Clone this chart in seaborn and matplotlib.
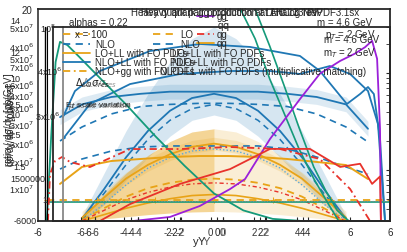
import matplotlib
matplotlib.use("Agg")
import matplotlib.pyplot as plt
from matplotlib.lines import Line2D
import seaborn as sns

# ---- data (main axes units: x = rapidity, y = 0..20) ----
x_bell = [-4.5, -3.75, -3.0, -2.25, -1.5, -0.75, 0.0, 0.75, 1.5, 2.25, 3.0, 3.75, 4.5]
blue_band_hi = [0.5, 4.5, 8.5, 12.0, 15.0, 17.2, 18.3, 17.2, 15.0, 12.0, 8.5, 4.5, 0.5]
blue_band_lo = [0.0, 1.5, 3.8, 6.0, 8.0, 9.5, 10.0, 9.5, 8.0, 6.0, 3.8, 1.5, 0.0]
blue_bell = [0.2, 3.0, 6.0, 8.5, 10.4, 11.6, 12.0, 11.6, 10.4, 8.5, 6.0, 3.0, 0.2]
blue_bell_dash = [0.1, 2.6, 5.3, 7.7, 9.5, 10.6, 11.0, 10.6, 9.5, 7.7, 5.3, 2.6, 0.1]
blue_bell_dot = [0.0, 1.6, 3.4, 5.0, 6.0, 6.6, 6.8, 6.6, 6.0, 5.0, 3.4, 1.6, 0.0]
orange_band_hi = [0.5, 2.5, 4.5, 6.2, 7.5, 8.4, 8.7, 8.4, 7.5, 6.2, 4.5, 2.5, 0.5]
orange_band_lo = [0.0, 0.2, 0.4, 0.6, 0.75, 0.85, 0.9, 0.85, 0.75, 0.6, 0.4, 0.2, 0.0]
orange_bell = [0.3, 2.2, 4.0, 5.3, 6.3, 7.0, 7.3, 7.0, 6.3, 5.3, 4.0, 2.2, 0.3]
orange_bell_dash = [0.1, 1.2, 2.3, 3.1, 3.6, 3.9, 4.0, 3.9, 3.6, 3.1, 2.3, 1.2, 0.1]
orange_bell_low = [0.0, 0.6, 1.2, 1.7, 2.1, 2.4, 2.5, 2.4, 2.1, 1.7, 1.2, 0.6, 0.0]
red_bell_dash = [0.0, 1.0, 2.0, 2.7, 3.2, 3.5, 3.6, 3.5, 3.2, 2.7, 2.0, 1.0, 0.0]

x_wide = [-5.25, -4.5, -3.5, -2.5, -1.5, -0.5, 0.5, 1.5, 2.5, 3.5, 4.5, 5.25]
blue_wide = [9.8, 11.0, 11.7, 12.0, 12.2, 12.2, 12.2, 12.2, 12.0, 11.7, 11.0, 8.7]
blue_wide_dash = [7.55, 8.87, 10.1, 10.8, 11.0, 11.1, 11.1, 11.0, 10.8, 10.1, 8.87, 7.45]
blue_wide_dash2 = [4.9, 5.85, 6.6, 6.98, 7.08, 7.08, 7.08, 7.08, 6.8, 6.04, 5.1, 4.43]
orange_wide = [3.5, 5.1, 5.66, 5.85, 6.04, 6.13, 6.13, 6.04, 5.85, 5.57, 5.28, 3.96]

x_top_a = [-5.15, -4.74, -3.89, -2.18, -0.48, 1.23, 2.93, 3.61, 4.53, 4.98, 5.25, 5.45, 5.66, 5.83]
blue_top_a = [9.81, 12.26, 14.15, 16.04, 16.7, 16.42, 15.57, 14.15, 11.04, 11.98, 12.64, 11.98, 7.74, 0.0]
x_top_b = [-5.15, -4.23, -2.86, -1.16, 0.55, 1.91, 2.93, 3.95, 4.64, 5.25, 5.59, 5.83]
blue_top_b = [7.74, 11.04, 12.92, 13.87, 14.15, 14.15, 13.87, 14.62, 13.87, 12.26, 9.15, 0.0]

x_green = [-5.7, -5.55, -5.4, -5.25, -5.0, -4.6, -4.0, -3.0, -2.0, -1.0, 0.0, 1.0, 2.0, 3.0]
green_peak = [0.0, 8.0, 15.0, 16.9, 16.6, 15.5, 13.8, 11.0, 8.0, 5.2, 2.6, 1.0, 0.2, 0.0]
x_green2 = [0.9, 1.4, 1.9, 2.4, 2.9, 3.4, 3.9, 4.25]
green_fall = [20.0, 17.2, 13.4, 10.1, 6.8, 4.0, 1.6, 0.0]
x_green3 = [1.4, 1.9, 2.4, 2.9, 3.4, 3.8, 4.2, 4.6]
green_fall2 = [20.0, 16.5, 12.7, 8.8, 5.1, 2.9, 1.0, 0.0]
x_flat = [-5.7, -4.0, -2.0, 0.0, 2.0, 4.0, 6.0]
orange_flat = [2.0, 2.0, 2.0, 2.0, 2.0, 2.0, 2.0]
green_flat = [1.8, 1.8, 1.8, 1.8, 1.8, 1.8, 1.8]

x_purple = [-3.8, -2.76, -1.5, -0.48, 0.55, 1.06, 1.91, 2.93, 3.61, 4.30, 4.81, 5.15, 5.39, 5.56, 5.66, 5.69]
purple_gg = [0.0, 0.0, 0.38, 1.42, 3.02, 3.96, 7.74, 11.5, 13.9, 15.1, 15.8, 16.4, 17.0, 15.3, 8.7, 0.0]

x_red_dd = [-5.66, -5.59, -5.42, -5.18, -4.91, -4.23, -2.86, -1.16, 0.55, 2.25, 3.61, 4.64, 5.32]
red_dashdot = [0.0, 4.43, 5.66, 6.04, 5.57, 5.09, 6.79, 6.79, 6.98, 6.79, 5.85, 3.02, 0.0]
x_red = [-3.89, -2.86, -1.16, 0.55, 1.91, 3.27, 4.30, 4.98, 5.39, 5.66, 5.69]
red_solid = [0.0, 1.6, 3.5, 4.9, 6.8, 6.8, 5.1, 5.4, 3.5, 4.2, 0.0]

# ---- figure ----
sns.set_style("ticks")
plt.rcParams['font.family'] = ['Liberation Sans', 'DejaVu Sans']
W, H = 407, 253
fig = plt.figure(figsize=(W / 100, H / 100), dpi=100)


def box(l, t, r, b):
    return [l / W, 1 - b / H, (r - l) / W, (b - t) / H]


def fx(x, y):
    return x / W, 1 - y / H


# outer frame
ax0 = fig.add_axes(box(38, 10, 390, 222))
ax0.set_xlim(-6, 6)
ax0.set_ylim(0, 20)
for s in ax0.spines.values():
    s.set_linewidth(1.3)
ax0.spines['left'].set_color('#444444')
ax0.set_xticks([-6, 6])
ax0.set_xticklabels(['-6', '6'], fontsize=7)
ax0.set_yticks([20])
ax0.set_yticklabels(['20'], fontsize=7)
ax0.tick_params(length=0, pad=4)

c_blue = '#1f77b4'
c_lblue = '#5aa7dd'
c_orange = '#e8a317'
c_green = '#159a7a'
c_red = '#e8322b'
c_purple = '#9b20d9'

# bands
ax0.fill_between(x_bell, blue_band_lo, blue_band_hi, color=c_blue, alpha=0.18, lw=0)
ax0.fill_between(x_wide, [v - 0.7 for v in blue_wide], [v + 0.7 for v in blue_wide],
                 color=c_blue, alpha=0.15, lw=0)
ax0.fill_between(x_bell[:7], orange_band_lo[:7], orange_band_hi[:7], color=c_orange, alpha=0.45, lw=0)
ax0.fill_between(x_bell[6:], orange_band_lo[6:], orange_band_hi[6:], color=c_orange, alpha=0.18, lw=0)
ax0.fill_between(x_bell, [v - 0.6 for v in orange_bell], [v + 0.6 for v in orange_bell],
                 color=c_orange, alpha=0.18, lw=0)

# lines
sns.lineplot(x=x_bell, y=blue_bell, ax=ax0, color=c_blue, lw=1.3)
sns.lineplot(x=x_bell, y=blue_bell_dash, ax=ax0, color=c_blue, lw=1.1, linestyle=(0, (4, 3)))
sns.lineplot(x=x_bell, y=blue_bell_dot, ax=ax0, color=c_lblue, lw=1.0, linestyle=(0, (1, 1.5)))
sns.lineplot(x=x_wide, y=blue_wide, ax=ax0, color=c_blue, lw=1.3)
sns.lineplot(x=x_wide, y=blue_wide_dash, ax=ax0, color=c_blue, lw=1.2, linestyle=(0, (4, 3)))
sns.lineplot(x=x_wide, y=blue_wide_dash2, ax=ax0, color=c_blue, lw=1.2, linestyle=(0, (4, 3)))
sns.lineplot(x=x_top_a, y=blue_top_a, ax=ax0, color=c_blue, lw=1.3)
sns.lineplot(x=x_top_b, y=blue_top_b, ax=ax0, color=c_blue, lw=1.3)

sns.lineplot(x=x_bell, y=orange_bell, ax=ax0, color=c_orange, lw=1.3)
sns.lineplot(x=x_bell, y=orange_bell_dash, ax=ax0, color=c_orange, lw=1.3, linestyle=(0, (4, 3)))
sns.lineplot(x=x_bell, y=orange_bell_low, ax=ax0, color=c_orange, lw=1.2)
sns.lineplot(x=x_wide, y=orange_wide, ax=ax0, color=c_orange, lw=1.4)
sns.lineplot(x=x_bell, y=red_bell_dash, ax=ax0, color=c_red, lw=1.0, linestyle=(0, (3, 2, 1, 2)))

sns.lineplot(x=x_flat, y=orange_flat, ax=ax0, color=c_orange, lw=1.3, linestyle=(0, (4, 3)),
             marker='+', markersize=4, markeredgecolor=c_orange)
sns.lineplot(x=x_flat, y=green_flat, ax=ax0, color=c_green, lw=1.2)
sns.lineplot(x=x_flat, y=[v + 0.1 for v in green_flat], ax=ax0, color='#888888', lw=0.8,
             linestyle=(0, (1, 1.5)))

sns.lineplot(x=x_green, y=green_peak, ax=ax0, color=c_green, lw=1.3)
sns.lineplot(x=x_green2, y=green_fall, ax=ax0, color=c_green, lw=1.2)
sns.lineplot(x=x_green3, y=green_fall2, ax=ax0, color=c_green, lw=1.2)
sns.lineplot(x=x_purple, y=purple_gg, ax=ax0, color=c_purple, lw=1.3)
sns.lineplot(x=x_red_dd, y=red_dashdot, ax=ax0, color=c_red, lw=1.3, linestyle=(0, (4, 2, 1, 2)))
sns.lineplot(x=x_red, y=red_solid, ax=ax0, color=c_red, lw=1.3)

# extra left spines / gray guide
ax0.axvline(-5.76, ymax=(222 - 28) / 212, color='black', lw=1.0)
ax0.axvline(-5.68, ymax=(222 - 28) / 212, color='black', lw=0.8)
ax0.axvline(-5.15, ymax=(222 - 28) / 212, color='#888888', lw=1.3)

# inner frame with overlapping tick sets
ax1 = fig.add_axes(box(53, 28, 390, 222))
ax1.patch.set_alpha(0)
ax1.set_xlim(-7.98, 7.88)
ax1.set_xticks([-6, -4, -2, 0, 2, 4, 6])
ax1.set_xticklabels(['-6', '-4', '-2', '0', '2', '4', '6'], fontsize=7)
ax1.set_yscale('log')
ax1.set_ylim(0.3, 30)
ax1.yaxis.tick_right()
ax1.tick_params(axis='y', which='both', direction='in', labelright=False, length=3)
ax1.tick_params(axis='x', direction='in', length=3, pad=4)
for s in ax1.spines.values():
    s.set_linewidth(1.3)

for xl, ticks, col in [((-7.63, 8.05), [-6, -4, -2, 0, 2, 4], '#222222'),
                       ((-7.95, 7.77), [-6, -4, -2, 0, 2], '#777777'),
                       ((-7.3, 8.3), [-6, -4, -2, 0, 2, 4], '#333333')]:
    axt = fig.add_axes(box(53, 28, 390, 222))
    axt.patch.set_alpha(0)
    for s in axt.spines.values():
        s.set_visible(False)
    axt.set_xlim(*xl)
    axt.set_xticks(ticks)
    axt.set_xticklabels([str(t) for t in ticks], fontsize=7, color=col)
    axt.set_yticks([])
    axt.tick_params(axis='x', direction='in', length=3, pad=4)

# titles and annotations
fig.text(*fx(225, 13), 'Heavy quark pair production at LHC 13 TeV', fontsize=7, ha='center', va='center')
fig.text(*fx(232, 13), 'Heavy quark gg production at LHC 13 TeV', fontsize=7, ha='center', va='center')
fig.text(*fx(315, 13), 'Analog NNPDF3.1sx', fontsize=7, ha='center', va='center')
fig.text(*fx(98, 23), 'alphas = 0.22', fontsize=7, ha='center', va='center')
fig.text(*fx(345, 23), 'm = 4.6 GeV', fontsize=7, ha='center', va='center')
fig.text(*fx(350, 35), 'p$_T$ = 2 GeV', fontsize=7, ha='center', va='center')
fig.text(*fx(352, 40), 'm = 4.6 GeV', fontsize=7, ha='center', va='center')
fig.text(*fx(350, 53), 'm$_T$ = 2 GeV', fontsize=7, ha='center', va='center')
fig.text(*fx(65, 106), r'E$_T$ scale variation', fontsize=6, ha='left', va='center')
fig.text(*fx(68, 106), r'$\mu$ scale variation', fontsize=6, ha='left', va='center', alpha=0.6)

# legend-like key
key = [
    (35, c_orange, (0, (4, 3)), 'x = 100', 75),
    (45, c_blue, (0, (4, 3)), 'NLO', 95),
    (54, c_orange, '-', 'LO+LL with FO PDFs', 95),
    (63, c_blue, '-', 'NLO+LL with FO PDFs', 95),
    (72, c_orange, (0, (4, 2, 1, 2)), 'NLO+gg with FO PDFs', 95),
]
for y, c, ls, txt, tx in key:
    fig.add_artist(Line2D([63 / W, 90 / W], [1 - y / H] * 2, color=c, lw=1.3, linestyle=ls))
    fig.text(*fx(tx, y), txt, fontsize=7, ha='left', va='center')
fig.text(*fx(75, 83), r'$\Delta_{LO}\sigma_{res}$', fontsize=7, ha='left', va='center')
fig.text(*fx(82, 83), r'$\Delta_{LO}\sigma_{res}$', fontsize=7, ha='left', va='center', alpha=0.5)

key2 = [
    (35, c_orange, (0, (4, 3)), 'LO', 180),
    (45, c_blue, (0, (4, 3)), 'NLO', 180),
]
for y, c, ls, txt, tx in key2:
    fig.add_artist(Line2D([153 / W, 173 / W], [1 - y / H] * 2, color=c, lw=1.3, linestyle=ls))
    fig.text(*fx(tx, y), txt, fontsize=7, ha='left', va='center')
fig.text(*fx(172, 54), 'LO+LL with FO PDFs', fontsize=7, ha='left', va='center')
fig.text(*fx(172, 63), 'NLO+LL with FO PDFs', fontsize=7, ha='left', va='center')
fig.text(*fx(160, 72), 'NLO+LL with FO PDFs (multiplicative matching)', fontsize=7,
         ha='left', va='center')

key3 = [
    (17, c_purple, '-', 'gg', 217),
    (35, c_red, (0, (4, 2, 1, 2)), 'qg', 217),
    (44, c_orange, '-', 'qq', 217),
]
for y, c, ls, txt, tx in key3:
    fig.add_artist(Line2D([197 / W, 214 / W], [1 - y / H] * 2, color=c, lw=1.3, linestyle=ls))
    fig.text(*fx(tx, y), txt, fontsize=7, ha='left', va='center')
fig.text(*fx(217, 27), r'q$\bar{\rm q}$', fontsize=7, ha='left', va='center')

# stacked left-side labels from the overlaid panels
left_labels = [
    (15, 22, '14'), (22, 29, '5x10$^7$'), (48, 29, '10$^8$'), (22, 48, '4x10$^6$'),
    (15, 53, '12'), (22, 60, '5x10$^7$'), (22, 68, '7x10$^6$'), (50, 72, '4x10$^6$'),
    (15, 80, '10'), (22, 86, '6x10$^6$'), (22, 97, '4x10$^7$'), (15, 106, '2.5'),
    (22, 109, '5x10$^6$'), (15, 116, '10'), (48, 117, '3x10$^6$'), (22, 126, '3x10$^7$'),
    (15, 136, '2.5'), (22, 145, '3x10$^6$'), (22, 163, '2x10$^7$'), (20, 168, '1.5'),
    (28, 180, '1500000'), (22, 190, '1x10$^7$'), (45, 201, '1'), (25, 222, '-6000'),
]
for x, y, t in left_labels:
    fig.text(*fx(x, y), t, fontsize=6.5, ha='center', va='center')

# axis titles
fig.text(*fx(9, 120), r'ratio / d$\sigma$/dy [pb/GeV]', fontsize=7, rotation=90,
         ha='center', va='center')
fig.text(*fx(11, 125), r'd$\sigma$/dy/dp$_T$ [pb/bins]', fontsize=7, rotation=90,
         ha='center', va='center')
fig.text(*fx(196, 242), 'y', fontsize=8, ha='center', va='center')
fig.text(*fx(201, 242), 'Y', fontsize=8, ha='center', va='center')
fig.text(*fx(206, 242), 'Y', fontsize=8, ha='center', va='center', color='#555555')

fig.savefig('out.png', dpi=100)
